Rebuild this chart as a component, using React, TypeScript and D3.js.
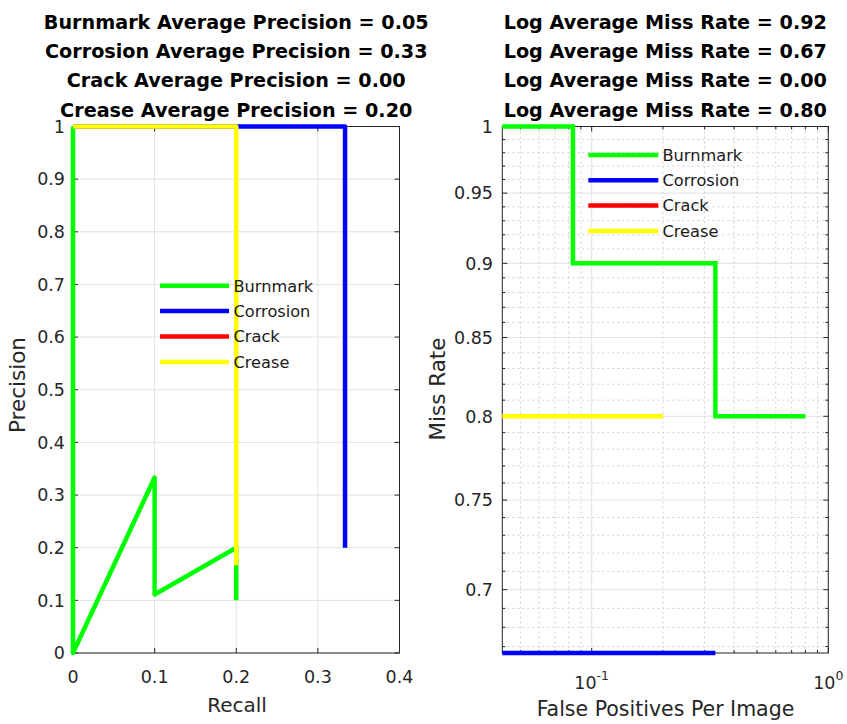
import React from "react";
import * as d3 from "d3";

const classNames = ["Burnmark", "Corrosion", "Crack", "Crease"];
const classColors = ["#00ff00", "#0000ff", "#ff0000", "#ffff00"];
const averagePrecision = ["0.05", "0.33", "0.00", "0.20"];
const logAverageMissRate = ["0.92", "0.67", "0.00", "0.80"];

// Precision-recall curves
const recallBurnmark = [0, 0, 0.1, 0.1, 0.2, 0.2];
const precisionBurnmark = [1, 0, 0.3333, 0.1111, 0.2, 0.1];
const recallCorrosion = [0, 0.3333, 0.3333];
const precisionCorrosion = [1, 1, 0.2];
const recallCrack: number[] = [];
const precisionCrack: number[] = [];
const recallCrease = [0, 0.2, 0.2];
const precisionCrease = [1, 1, 0.1667];

// Miss rate - FPPI curves
const fppiBurnmark = [0.0419, 0.08333, 0.08333, 0.3333, 0.3333, 0.8];
const missBurnmark = [1, 1, 0.9, 0.9, 0.8, 0.8];
const fppiCorrosion = [0.0419, 0.3333];
const missCorrosion = [0.6667, 0.6667];
const fppiCrack: number[] = [];
const missCrack: number[] = [];
const fppiCrease = [0.0419, 0.2];
const missCrease = [0.8, 0.8];

const recallTicks = [0, 0.1, 0.2, 0.3, 0.4];
const precisionTicks = [0, 0.1, 0.2, 0.3, 0.4, 0.5, 0.6, 0.7, 0.8, 0.9, 1];
const fppiTicks = [0.1, 1];
const fppiTickExp = ["-1", "0"];
const fppiMinorTicks = [0.05, 0.06, 0.07, 0.08, 0.09, 0.2, 0.3, 0.4, 0.5, 0.6, 0.7, 0.8, 0.9];
const missTicks = [0.7, 0.75, 0.8, 0.85, 0.9, 0.95, 1];
const missTickLabels = ["0.7", "0.75", "0.8", "0.85", "0.9", "0.95", "1"];
const missMinorTicks = [
  0.67, 0.68, 0.69, 0.71, 0.72, 0.73, 0.74, 0.76, 0.77, 0.78, 0.79, 0.81, 0.82, 0.83, 0.84,
  0.86, 0.87, 0.88, 0.89, 0.91, 0.92, 0.93, 0.94, 0.96, 0.97, 0.98, 0.99,
];

const FONT = "'DejaVu Sans', sans-serif";
const AX = "#262626";
const GRID = "#e1e1e1";
const MINOR = "#cfcfcf";

export default function App() {
  const top = 126.5;
  const bottom = 653;
  const xL = d3.scaleLinear().domain([0, 0.4]).range([73, 399.5]);
  const yL = d3.scaleLinear().domain([0, 1]).range([bottom, top]);
  const xR = d3.scaleLog().domain([0.0419, 1]).range([502.3, 828.3]);
  const yR = d3.scaleLog().domain([0.6667, 1]).range([bottom, top]);

  const lineL = (xs: number[], ys: number[]) =>
    d3.line<number>().x((_, i) => xL(xs[i])).y((_, i) => yL(ys[i]))(xs.map((_, i) => i)) || "";
  const lineR = (xs: number[], ys: number[]) =>
    d3.line<number>().x((_, i) => xR(xs[i])).y((_, i) => yR(ys[i]))(xs.map((_, i) => i)) || "";

  const prSeries = [
    [recallBurnmark, precisionBurnmark],
    [recallCorrosion, precisionCorrosion],
    [recallCrack, precisionCrack],
    [recallCrease, precisionCrease],
  ];
  const mrSeries = [
    [fppiBurnmark, missBurnmark],
    [fppiCorrosion, missCorrosion],
    [fppiCrack, missCrack],
    [fppiCrease, missCrease],
  ];

  const titleBaselines = [29, 58.2, 87.3, 116.5];
  const lw = 4.5;
  const tickLen = 5;
  const minorLen = 3;

  const [xl0, xl1] = xL.range();
  const [xr0, xr1] = xR.range();

  return (
    <svg
      width={847}
      height={724}
      style={{ position: "absolute", left: 0, top: 0, background: "#fff" }}
      fontFamily={FONT}
    >
      <rect x={0} y={0} width={847} height={724} fill="#fff" />

      {/* ---------------- LEFT: Precision / Recall ---------------- */}
      <g>
        {recallTicks.map((t) => (
          <line key={"gx" + t} x1={xL(t)} x2={xL(t)} y1={top} y2={bottom} stroke={GRID} strokeWidth={1} />
        ))}
        {precisionTicks.map((t) => (
          <line key={"gy" + t} x1={xl0} x2={xl1} y1={yL(t)} y2={yL(t)} stroke={GRID} strokeWidth={1} />
        ))}
        {/* ticks */}
        {recallTicks.map((t) => (
          <g key={"tx" + t}>
            <line x1={xL(t)} x2={xL(t)} y1={bottom} y2={bottom - tickLen} stroke={AX} />
            <line x1={xL(t)} x2={xL(t)} y1={top} y2={top + tickLen} stroke={AX} />
            <text x={xL(t)} y={682.5} textAnchor="middle" fontSize={17.5} fill={AX}>
              {String(t)}
            </text>
          </g>
        ))}
        {precisionTicks.map((t) => (
          <g key={"ty" + t}>
            <line x1={xl0} x2={xl0 + tickLen} y1={yL(t)} y2={yL(t)} stroke={AX} />
            <line x1={xl1} x2={xl1 - tickLen} y1={yL(t)} y2={yL(t)} stroke={AX} />
            <text x={65} y={yL(t)} dy="0.36em" textAnchor="end" fontSize={17.5} fill={AX}>
              {String(t)}
            </text>
          </g>
        ))}
        <rect x={xl0} y={top} width={xl1 - xl0} height={bottom - top} fill="none" stroke={AX} strokeWidth={1} />

        {prSeries.map(([xs, ys], i) =>
          xs.length > 1 ? (
            <path
              key={"pr" + i}
              d={lineL(xs, ys)}
              fill="none"
              stroke={classColors[i]}
              strokeWidth={lw}
              strokeLinejoin="round"
            />
          ) : null
        )}

        {/* legend */}
        {classNames.map((n, i) => (
          <g key={"lgL" + i}>
            <line x1={160} x2={229} y1={285.7 + i * 25.4} y2={285.7 + i * 25.4} stroke={classColors[i]} strokeWidth={lw} />
            <text x={233.5} y={285.7 + i * 25.4} dy="0.36em" fontSize={16.2} fill="#1a1a1a">
              {n}
            </text>
          </g>
        ))}

        <text x={237} y={712} textAnchor="middle" fontSize={20} fill={AX}>
          Recall
        </text>
        <text transform="translate(25,385) rotate(-90)" textAnchor="middle" fontSize={21.5} fill={AX}>
          Precision
        </text>
        {classNames.map((n, i) => (
          <text
            key={"tl" + i}
            x={(xl0 + xl1) / 2}
            y={titleBaselines[i]}
            textAnchor="middle"
            fontSize={19.2}
            fontWeight="bold"
            fill="#000"
          >
            {`${n} Average Precision = ${averagePrecision[i]}`}
          </text>
        ))}
      </g>

      {/* ---------------- RIGHT: Miss rate / FPPI ---------------- */}
      <g>
        {fppiMinorTicks.map((t) => (
          <line key={"mgx" + t} x1={xR(t)} x2={xR(t)} y1={top} y2={bottom} stroke={MINOR} strokeWidth={1} strokeDasharray="2 3" />
        ))}
        {missMinorTicks.map((t) => (
          <line key={"mgy" + t} x1={xr0} x2={xr1} y1={yR(t)} y2={yR(t)} stroke={MINOR} strokeWidth={1} strokeDasharray="2 3" />
        ))}
        {fppiTicks.map((t) => (
          <line key={"gx" + t} x1={xR(t)} x2={xR(t)} y1={top} y2={bottom} stroke={GRID} strokeWidth={1} />
        ))}
        {missTicks.map((t) => (
          <line key={"gy" + t} x1={xr0} x2={xr1} y1={yR(t)} y2={yR(t)} stroke={GRID} strokeWidth={1} />
        ))}

        {fppiMinorTicks.map((t) => (
          <g key={"mtx" + t}>
            <line x1={xR(t)} x2={xR(t)} y1={bottom} y2={bottom - minorLen} stroke={AX} />
            <line x1={xR(t)} x2={xR(t)} y1={top} y2={top + minorLen} stroke={AX} />
          </g>
        ))}
        {missMinorTicks.map((t) => (
          <g key={"mty" + t}>
            <line x1={xr0} x2={xr0 + minorLen} y1={yR(t)} y2={yR(t)} stroke={AX} />
            <line x1={xr1} x2={xr1 - minorLen} y1={yR(t)} y2={yR(t)} stroke={AX} />
          </g>
        ))}
        {fppiTicks.map((t, i) => (
          <g key={"tx" + t}>
            <line x1={xR(t)} x2={xR(t)} y1={bottom} y2={bottom - tickLen} stroke={AX} />
            <line x1={xR(t)} x2={xR(t)} y1={top} y2={top + tickLen} stroke={AX} />
            <text x={xR(t)} y={689} textAnchor="middle" fontSize={17.5} fill={AX}>
              10
              <tspan fontSize={12.5} dy={-9}>
                {fppiTickExp[i]}
              </tspan>
            </text>
          </g>
        ))}
        {missTicks.map((t, i) => (
          <g key={"ty" + t}>
            <line x1={xr0} x2={xr0 + tickLen} y1={yR(t)} y2={yR(t)} stroke={AX} />
            <line x1={xr1} x2={xr1 - tickLen} y1={yR(t)} y2={yR(t)} stroke={AX} />
            <text x={493} y={yR(t)} dy="0.36em" textAnchor="end" fontSize={17.5} fill={AX}>
              {missTickLabels[i]}
            </text>
          </g>
        ))}
        <rect x={xr0} y={top} width={xr1 - xr0} height={bottom - top} fill="none" stroke={AX} strokeWidth={1} />

        {mrSeries.map(([xs, ys], i) =>
          xs.length > 1 ? (
            <path
              key={"mr" + i}
              d={lineR(xs, ys)}
              fill="none"
              stroke={classColors[i]}
              strokeWidth={lw}
              strokeLinejoin="miter"
            />
          ) : null
        )}

        {classNames.map((n, i) => (
          <g key={"lgR" + i}>
            <line x1={588.3} x2={658.3} y1={155 + i * 25.3} y2={155 + i * 25.3} stroke={classColors[i]} strokeWidth={lw} />
            <text x={662.5} y={155 + i * 25.3} dy="0.36em" fontSize={16.2} fill="#1a1a1a">
              {n}
            </text>
          </g>
        ))}

        <text x={665.5} y={716} textAnchor="middle" fontSize={20.5} fill={AX}>
          False Positives Per Image
        </text>
        <text transform="translate(445,389) rotate(-90)" textAnchor="middle" fontSize={21.5} fill={AX}>
          Miss Rate
        </text>
        {logAverageMissRate.map((v, i) => (
          <text
            key={"tr" + i}
            x={(xr0 + xr1) / 2}
            y={titleBaselines[i]}
            textAnchor="middle"
            fontSize={19.2}
            fontWeight="bold"
            fill="#000"
          >
            {`Log Average Miss Rate = ${v}`}
          </text>
        ))}
      </g>
    </svg>
  );
}
